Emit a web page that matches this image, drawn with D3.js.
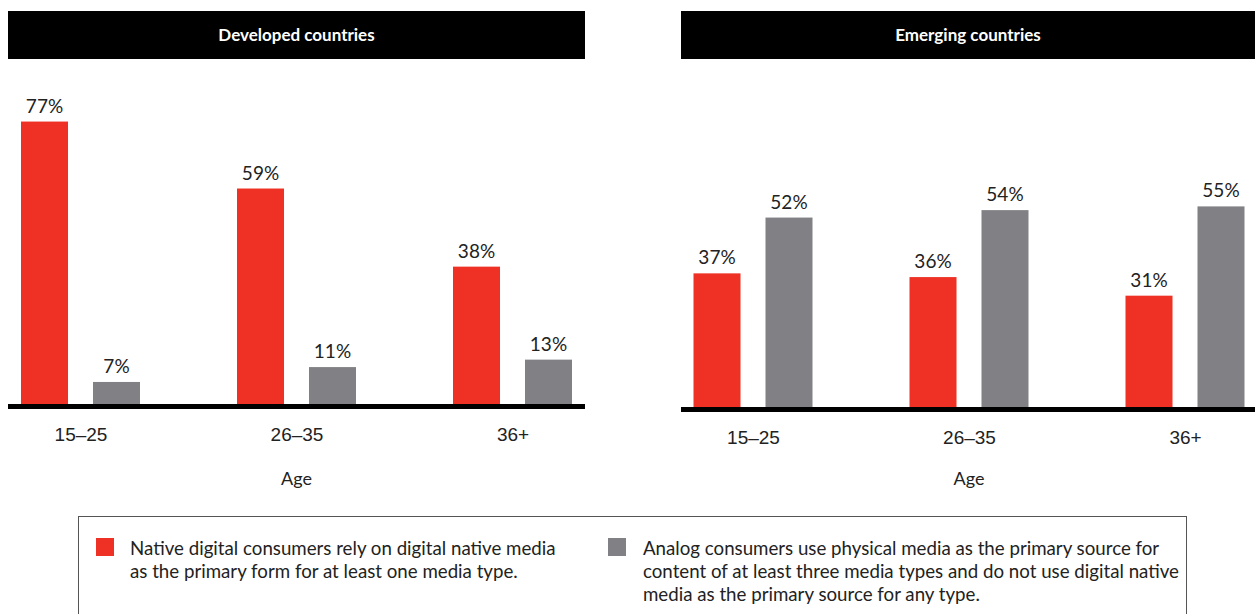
<!DOCTYPE html>
<html>
<head>
<meta charset="utf-8">
<script src="https://cdn.jsdelivr.net/npm/d3@7"></script>
<style>
  html, body { margin: 0; padding: 0; background: #fff; }
  svg { display: block; font-family: Lato, "Liberation Sans", sans-serif; }
</style>
</head>
<body>
<svg id="chart" width="1255" height="614"></svg>
<script>
// Age groups and series
const ageGroups = ["15–25", "26–35", "36+"];
const seriesKeys = ["native", "analog"];

// Share of consumers (%) by age group
const developedNative = [77, 59, 38];
const developedAnalog = [7, 11, 13];
const emergingNative = [37, 36, 31];
const emergingAnalog = [52, 54, 55];

const panelTitles = ["Developed countries", "Emerging countries"];
const axisTitle = "Age";

const legendNative = [
  "Native digital consumers rely on digital native media",
  "as the primary form for at least one media type."
];
const legendAnalog = [
  "Analog consumers use physical media as the primary source for",
  "content of at least three media types and do not use digital native",
  "media as the primary source for any type."
];

const colors = { native: "#EE3124", analog: "#818185" };

const svg = d3.select("#chart");

const panels = [
  { title: panelTitles[0], native: developedNative, analog: developedAnalog,
    left: 8, right: 585, centers: [80.5, 512.5], zeroY: 408, lineY: 406.5 },
  { title: panelTitles[1], native: emergingNative, analog: emergingAnalog,
    left: 681, right: 1255, centers: [753, 1185], zeroY: 411, lineY: 409.5 }
];

panels.forEach(p => {
  const g = svg.append("g");

  // title bar
  g.append("rect")
    .attr("x", p.left).attr("y", 11)
    .attr("width", p.right - p.left).attr("height", 48)
    .attr("fill", "#000");
  g.append("text")
    .attr("x", (p.left + p.right) / 2).attr("y", 41)
    .attr("text-anchor", "middle")
    .attr("fill", "#fff")
    .attr("font-weight", "bold")
    .attr("font-size", 17)
    .text(p.title);

  const x = d3.scalePoint().domain(ageGroups).range(p.centers);
  const xs = d3.scaleBand().domain(seriesKeys).range([-59.5, 59.5]).paddingInner(0.347);
  const y = d3.scaleLinear().domain([0, 100]).range([p.zeroY, p.zeroY - 372]);

  const rows = ageGroups.map((a, i) => ({ age: a, native: p.native[i], analog: p.analog[i] }));
  const cells = rows.flatMap(r => seriesKeys.map(k => ({ age: r.age, key: k, value: r[k] })));

  g.selectAll("rect.bar").data(cells).join("rect")
    .attr("class", "bar")
    .attr("x", d => x(d.age) + xs(d.key))
    .attr("width", xs.bandwidth())
    .attr("y", d => y(d.value))
    .attr("height", d => y(0) - y(d.value))
    .attr("fill", d => colors[d.key]);

  g.selectAll("text.val").data(cells).join("text")
    .attr("class", "val")
    .attr("x", d => x(d.age) + xs(d.key) + xs.bandwidth() / 2)
    .attr("y", d => y(d.value) - 9)
    .attr("text-anchor", "middle")
    .attr("font-size", 19)
    .attr("fill", "#222")
    .text(d => d.value + "%");

  // baseline
  g.append("line")
    .attr("x1", p.left).attr("x2", p.right)
    .attr("y1", p.lineY).attr("y2", p.lineY)
    .attr("stroke", "#000").attr("stroke-width", 5);

  // category axis
  const axis = g.append("g")
    .attr("transform", `translate(0,${p.lineY})`)
    .call(d3.axisBottom(x).tickSize(0).tickPadding(21));
  axis.select(".domain").remove();
  axis.selectAll("text")
    .attr("font-size", 19)
    .attr("fill", "#222")
    .attr("font-family", null);

  g.append("text")
    .attr("x", (p.centers[0] + p.centers[1]) / 2).attr("y", 485)
    .attr("text-anchor", "middle")
    .attr("font-size", 18)
    .attr("fill", "#222")
    .text(axisTitle);
});

// legend box
const legend = svg.append("g");
legend.append("rect")
  .attr("x", 78.5).attr("y", 516.5)
  .attr("width", 1108).attr("height", 140)
  .attr("fill", "none").attr("stroke", "#555").attr("stroke-width", 1);

const legendItems = [
  { key: "native", lines: legendNative, sx: 96, tx: 130 },
  { key: "analog", lines: legendAnalog, sx: 608, tx: 643 }
];
legendItems.forEach(it => {
  legend.append("rect")
    .attr("x", it.sx).attr("y", 538)
    .attr("width", 18).attr("height", 18)
    .attr("fill", colors[it.key]);
  legend.append("g").selectAll("text").data(it.lines).join("text")
    .attr("x", it.tx)
    .attr("y", (d, i) => 555 + i * 23)
    .attr("font-size", 18.7)
    .attr("fill", "#222")
    .text(d => d);
});
</script>
</body>
</html>
